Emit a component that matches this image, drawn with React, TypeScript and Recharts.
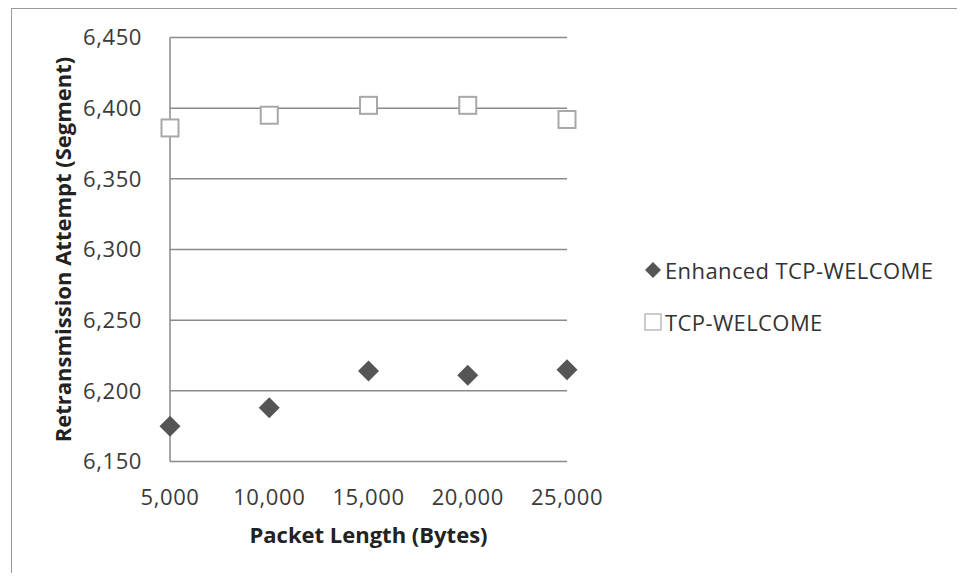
import React from "react";
import {
  ScatterChart,
  Scatter,
  XAxis,
  YAxis,
  CartesianGrid,
  Legend,
} from "recharts";

const packetLengths = [5000, 10000, 15000, 20000, 25000];
const enhancedValues = [6175, 6188, 6214, 6211, 6215];
const welcomeValues = [6386, 6395, 6402, 6402, 6392];
const xTicks = [5000, 10000, 15000, 20000, 25000];
const yTicks = [6150, 6200, 6250, 6300, 6350, 6400, 6450];

const enhancedData = packetLengths.map((x, i) => ({ x, y: enhancedValues[i] }));
const welcomeData = packetLengths.map((x, i) => ({ x, y: welcomeValues[i] }));

const FONT = "'Open Sans', sans-serif";
const fmt = (v: number) => v.toLocaleString("en-US");

const Diamond = (props: any) => {
  const { cx, cy } = props;
  const r = 10.5;
  return (
    <path
      d={`M${cx},${cy - r} L${cx + r},${cy} L${cx},${cy + r} L${cx - r},${cy} Z`}
      fill="#555555"
    />
  );
};

const Square = (props: any) => {
  const { cx, cy } = props;
  const s = 17;
  return (
    <rect
      x={cx - s / 2}
      y={cy - s / 2}
      width={s}
      height={s}
      fill="#ffffff"
      stroke="#a8a8a8"
      strokeWidth={2}
    />
  );
};

const LegendContent = () => (
  <div style={{ fontFamily: FONT, fontSize: 22, color: "#333", lineHeight: "30px", letterSpacing: 0.4 }}>
    <div style={{ display: "flex", alignItems: "center", height: 30 }}>
      <svg width={20} height={20} style={{ marginRight: 2 }}>
        <path d="M10,2 L18,10 L10,18 L2,10 Z" fill="#555555" />
      </svg>
      <span>Enhanced TCP-WELCOME</span>
    </div>
    <div style={{ display: "flex", alignItems: "center", height: 30, marginTop: 22 }}>
      <svg width={20} height={20} style={{ marginRight: 2 }}>
        <rect x={2} y={2} width={16} height={16} fill="#fff" stroke="#aaa" strokeWidth={1.2} />
      </svg>
      <span>TCP-WELCOME</span>
    </div>
  </div>
);

export default function App() {
  return (
    <div style={{ position: "relative", width: 957, height: 565, background: "#fff" }}>
      <ScatterChart
        width={957}
        height={565}
        margin={{ top: 29.5, right: 398, bottom: 26.5, left: 0 }}
        style={{ fontFamily: FONT }}
      >
        <CartesianGrid vertical={false} stroke="#8a8a8a" strokeWidth={1.5} />
        <XAxis
          type="number"
          dataKey="x"
          domain={[5000, 25000]}
          ticks={xTicks}
          tickFormatter={fmt}
          axisLine={false}
          tickLine={false}
          tickSize={0}
          tickMargin={28}
          height={85}
          tick={{ fill: "#3a3a3a", fontSize: 22, fontFamily: FONT, letterSpacing: 0.6 }}
          interval={0}
          label={{
            value: "Packet Length (Bytes)",
            position: "insideBottom",
            offset: 4,
            style: { fontWeight: 700, fontSize: 22, fill: "#222", fontFamily: FONT },
          }}
        />
        <YAxis
          type="number"
          dataKey="y"
          domain={[6150, 6450]}
          ticks={yTicks}
          tickFormatter={fmt}
          axisLine={{ stroke: "#8a8a8a", strokeWidth: 1.5 }}
          tickLine={false}
          tickSize={0}
          tickMargin={28}
          width={162}
          interval={0}
          tick={{ fill: "#3a3a3a", fontSize: 22, fontFamily: FONT, letterSpacing: 0.6 }}
          label={{
            value: "Retransmission Attempt (Segment)",
            angle: -90,
            position: "insideLeft",
            offset: 55,
            style: { textAnchor: "middle", fontWeight: 700, fontSize: 22, fill: "#222", fontFamily: FONT },
          }}
        />
        <Legend
          layout="horizontal"
          verticalAlign="middle"
          align="center"
          wrapperStyle={{ left: 635, top: 247, width: 320 }}
          content={<LegendContent />}
        />
        <Scatter
          name="Enhanced TCP-WELCOME"
          data={enhancedData}
          shape={Diamond}
          isAnimationActive={false}
        />
        <Scatter
          name="TCP-WELCOME"
          data={welcomeData}
          shape={Square}
          isAnimationActive={false}
        />
      </ScatterChart>
      <div
        style={{
          position: "absolute",
          left: 3,
          top: 0,
          width: 954,
          height: 565,
          borderTop: "1.5px solid #999",
          borderLeft: "1.5px solid #999",
          boxSizing: "border-box",
          pointerEvents: "none",
        }}
      />
    </div>
  );
}
